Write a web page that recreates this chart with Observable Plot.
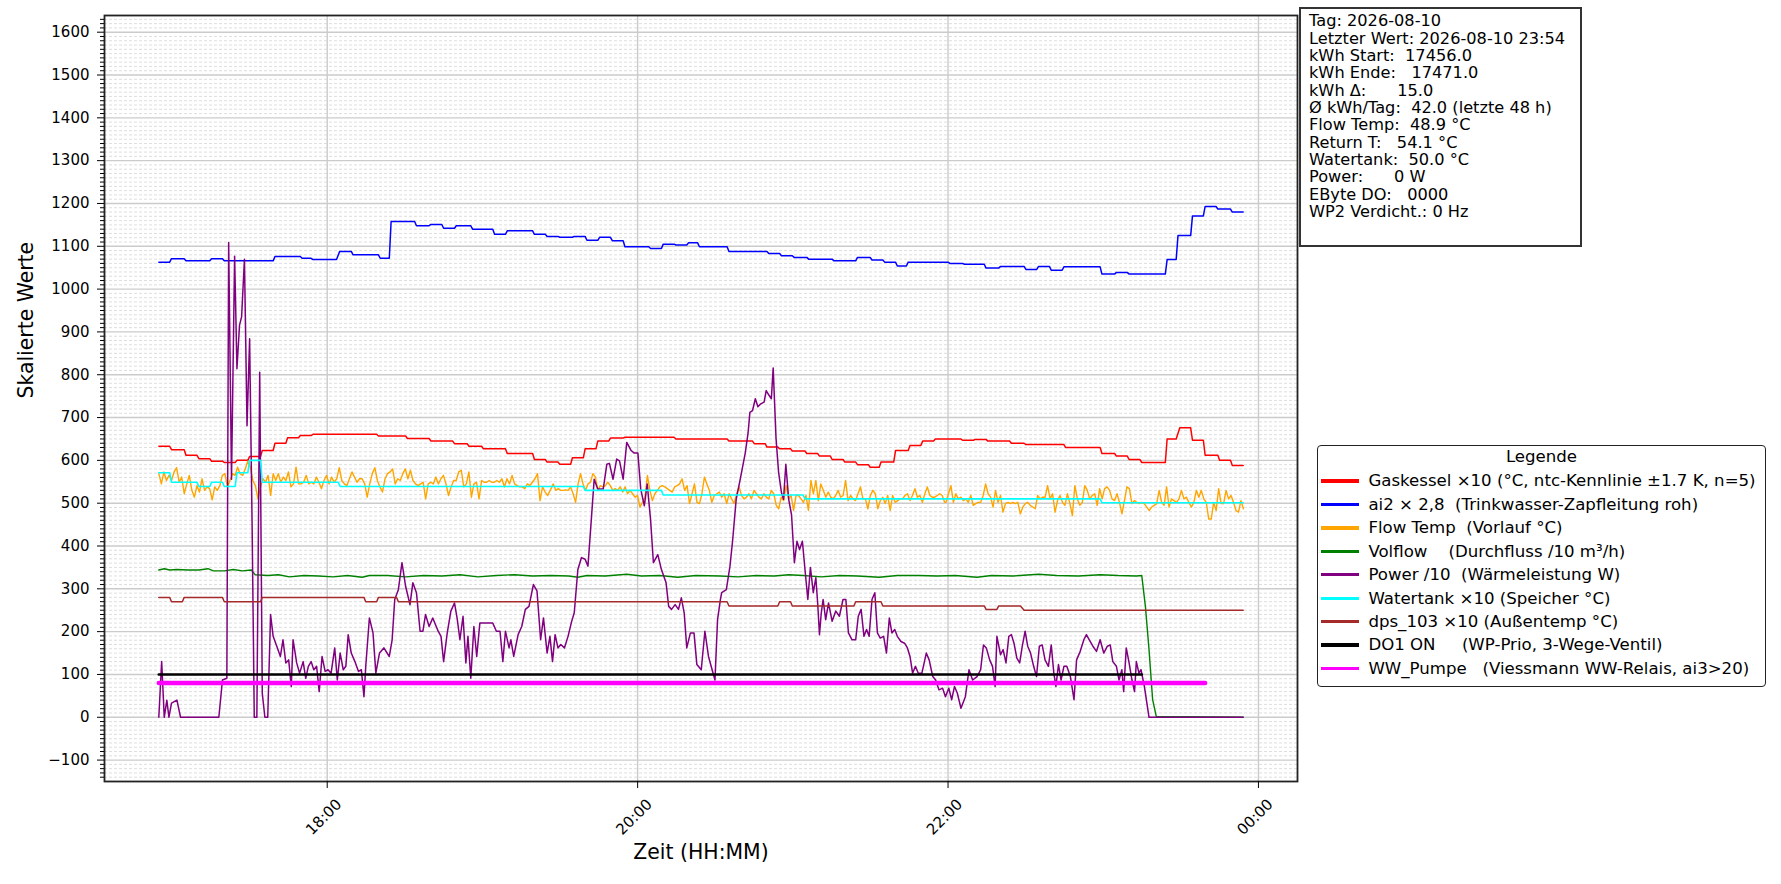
<!DOCTYPE html>
<html><head><meta charset="utf-8">
<script src="https://cdn.jsdelivr.net/npm/d3@7"></script>
<script src="https://cdn.jsdelivr.net/npm/@observablehq/plot@0.6"></script>
<style>
body{margin:0;background:#fff;font-family:"DejaVu Sans",sans-serif;}
#wrap{position:relative;width:1781px;height:884px;overflow:hidden;}
#info{position:absolute;left:1299px;top:7px;width:283px;height:240px;box-sizing:border-box;border:2px solid #333;background:#fff;padding:3.4px 0 0 8px;font-size:16.2px;line-height:17.35px;white-space:pre;color:#000;}
#legend{position:absolute;left:1317px;top:445px;width:449px;height:242px;box-sizing:border-box;border:1.6px solid #222;border-radius:4px;background:#fff;font-size:16.6px;color:#000;}
.lt{position:absolute;left:0;right:0;top:-1.5px;height:23px;line-height:23px;text-align:center;}
.row{position:absolute;left:0;height:23.46px;line-height:23.46px;display:flex;align-items:center;white-space:pre;}
.sw{width:37.6px;height:3.4px;margin-left:3.1px;margin-right:9.7px;flex:none;}
</style></head>
<body><div id="wrap"><div id="chart"></div><div id="info"></div><div id="legend"></div></div>
<script>
// ---- data (times in minutes after 16:00 on 2026-08-10) ----
const xTickMinutes = [120, 240, 360, 480];
const xTickLabels = ["18:00", "20:00", "22:00", "00:00"];

// Gaskessel x10 : step segments [start, end, value]
const gasStart = [54.9,59.8,65.4,70.4,75.3,80.2,85.1,90.0,94.9,99.8,104.7,109.6,114.5,139.8,151.0,160.1,169.2,174.8,180.4,189.6,200.1,205.0,209.9,214.8,219.7,224.6,229.5,235.1,254.8,275.3,285.1,290.0,294.9,299.8,305.4,310.3,315.2,320.1,325.0,329.9,334.1,339.7,345.3,350.2,355.1,365.6,370.5,375.4,384.5,390.1,405.5,419.5,425.1,430.0,434.9,444.7,449.6,454.5,459.4,465.0,469.9];
const gasEnd   = [59.1,64.7,69.6,74.6,79.5,84.4,89.3,94.2,99.1,104.0,108.9,113.8,139.1,150.3,159.4,168.5,174.1,179.7,188.9,199.4,204.3,209.2,214.1,219.0,223.9,228.8,234.4,254.1,274.6,284.4,289.3,294.2,299.1,304.7,309.6,314.5,319.4,324.3,329.2,333.4,339.0,344.6,349.5,354.4,364.9,369.8,374.7,383.8,389.4,404.8,418.8,424.4,429.3,434.2,444.0,448.2,453.8,458.7,464.3,469.2,474.1];
const gasVal   = [633,625,612,604,598,595,600,609,623,640,653,658,661,657,651,645,639,633,627,616,602,596,591,606,627,645,652,654,650,645,639,631,627,622,616,610,602,596,590,584,596,623,635,645,650,647,649,645,640,637,630,616,610,602,595,650,676,647,612,600,588];

// ai2 x 2,8 : step segments
const ai2Start = [54.9,59.8,65.4,75.3,80.2,99.8,110.3,114.5,124.8,130.0,140.5,144.7,154.5,160.1,165.0,169.9,176.2,184.7,189.6,200.1,205.0,209.9,215.5,220.4,225.3,230.2,235.1,245.0,249.9,254.8,259.7,263.9,275.3,290.7,295.6,300.5,306.1,315.9,325.0,330.6,335.5,340.4,344.6,360.7,366.3,374.7,380.3,390.1,395.0,399.9,404.8,419.5,425.1,430.0,444.7,448.9,454.5,459.4,464.3,469.9];
const ai2End   = [59.1,64.7,74.6,79.5,99.1,109.6,113.8,123.6,129.3,139.8,144.0,153.8,159.4,164.3,169.2,175.5,184.0,188.9,199.4,204.3,209.2,214.8,219.7,224.6,229.5,234.4,244.3,249.2,254.1,259.0,263.2,274.6,290.0,294.9,299.8,305.4,315.2,324.3,329.9,334.8,339.7,343.9,360.0,365.6,374.0,379.6,389.4,394.3,399.2,404.1,418.8,424.4,429.3,444.0,448.2,453.8,458.7,463.6,469.2,474.1];
const ai2Val   = [1063,1071,1066,1071,1066,1076,1072,1069,1088,1080,1072,1158,1148,1151,1142,1148,1140,1128,1136,1128,1123,1121,1123,1114,1121,1113,1099,1095,1105,1103,1108,1099,1088,1083,1078,1074,1070,1066,1074,1068,1063,1054,1063,1060,1058,1049,1053,1046,1053,1044,1052,1035,1039,1035,1069,1125,1171,1193,1187,1180];

// Flow Temp (Vorlauf) : three sampled stretches, [start, end] minutes
const flowSpan1 = [54.9, 206.2];
const flowVal1 = [569,545,573,553,565,553,573,583,549,561,522,545,565,530,514,541,526,557,530,538,534,508,538,530,541,565,569,538,553,569,565,584,569,565,580,598,584,553,541,510,538,557,549,565,518,569,553,569,549,561,553,573,538,545,584,545,545,549,565,545,549,545,561,549,534,553,565,545,561,549,557,583,553,545,541,557,573,561,549,557,557,545,514,545,569,583,553,538,526,557,569,573,580,545,557,553,569,580,557,577,553,545,541,545,549,510,545,549,545,561,545,557,565,545,518,538,553,553,573,577,538,545,573,514,545,549,510,553,549,549,553,549,549,553,549,557,538,557,545,565,545,541,538,538,534,545,541,549,557,569,506,538,526,518,530];
const flowSpan2 = [207.4, 358.7];
const flowVal2 = [545,530,534,530,530,531,530,538,522,502,545,569,545,530,545,549,569,561,530,541,538,541,549,541,530,534,530,538,526,538,522,530,522,514,518,491,502,514,565,530,506,522,530,538,541,538,534,530,526,538,541,545,557,530,541,499,522,545,502,499,522,561,545,530,502,518,522,526,514,522,499,522,510,499,522,538,518,510,514,522,510,530,522,514,510,522,514,510,530,522,495,487,514,506,541,510,518,483,518,518,510,502,518,483,553,522,553,506,545,530,514,526,514,510,518,530,514,518,553,506,518,510,506,522,538,510,510,487,518,530,522,487,506,514,499,518,483,518,502,506,510,510,518,522,506,518,534,514,518,502,522,538,518,514,514,518,522,518,502];
const flowSpan3 = [359.2, 474.2];
const flowVal3 = [502,522,541,502,522,510,514,506,510,502,518,495,499,502,502,518,545,522,514,491,530,502,518,479,499,502,499,502,499,502,475,491,499,502,495,491,487,518,510,514,514,541,510,522,479,506,518,502,495,522,499,471,541,510,495,502,541,530,510,518,522,495,534,510,534,538,530,510,506,522,502,475,506,538,534,499,506,502,499,502,499,491,483,491,495,499,530,502,495,538,491,510,506,502,510,530,510,514,502,491,502,530,514,530,510,502,463,463,502,483,534,499,499,530,510,518,502,483,479,506,487];

// Volflow
const volT = [54.9,57.0,59.1,61.9,66.1,70.4,73.9,76.0,80.2,83.7,87.2,90.7,92.1,97.0,101.2,105.4,111.0,116.6,122.2,127.9,133.5,136.3,143.3,150.3,157.3,164.3,171.3,178.3,185.4,192.4,199.4,206.4,213.4,216.9,220.4,227.4,235.8,241.5,248.5,255.5,262.5,272.0,278.8,285.8,292.8,298.4,304.0,311.0,318.0,325.0,333.4,340.4,348.8,355.8,362.8,371.2,376.8,385.2,395.0,402.0,410.4,418.8,425.8,432.8,434.9,436.3,437.7,439.1,440.5,474.1];
const volV = [344,347,344,345,344,344,347,342,342,345,342,344,333,331,333,328,331,330,328,331,327,331,331,328,331,330,333,328,331,333,330,331,330,327,331,330,334,330,331,327,331,330,328,331,330,333,331,328,331,330,327,331,331,330,331,327,331,330,334,331,330,333,331,330,331,259,158,41,2,0];

// Power /10
const pwrT = [54.9,56.0,57.0,58.0,58.8,59.8,61.9,63.3,78.1,79.5,81.2,81.9,83.0,84.2,85.1,86.1,86.9,88.0,89.0,90.0,91.0,91.8,92.8,93.9,94.9,95.9,97.0,98.1,99.1,100.5,101.9,102.9,104.0,105.1,106.1,106.8,108.2,109.3,110.7,111.7,112.7,113.8,114.8,115.9,116.9,118.0,119.2,120.3,121.5,122.9,123.9,125.0,126.2,127.2,128.1,129.3,130.7,132.1,133.2,134.2,134.9,136.3,137.7,138.8,140.2,141.9,144.0,145.1,146.1,147.5,148.9,150.3,152.0,153.1,154.5,155.9,157.0,158.0,159.4,160.8,162.9,164.0,165.0,166.4,167.8,169.2,170.2,171.3,172.5,173.6,174.4,175.5,176.7,177.8,179.0,180.4,184.0,185.4,186.8,187.9,188.9,190.3,191.0,192.1,193.8,195.2,196.6,198.0,199.7,201.1,202.5,203.6,205.0,206.1,207.1,208.1,209.2,210.3,211.7,213.1,214.5,215.5,216.9,218.3,219.7,220.8,222.1,223.2,224.6,226.7,228.1,229.1,230.5,231.9,233.0,234.4,235.8,237.5,238.7,240.1,241.2,242.6,243.7,245.0,246.1,247.8,249.2,251.0,252.0,253.1,254.5,255.8,256.9,258.0,259.0,260.4,261.8,262.9,264.6,266.0,267.4,268.8,269.9,270.9,272.0,272.5,274.3,275.7,276.7,278.1,279.9,281.6,282.7,283.4,284.4,285.5,286.5,287.6,288.9,289.7,290.8,291.7,292.4,293.5,294.5,295.6,296.4,297.3,298.4,299.5,300.6,301.6,302.6,303.7,304.7,305.8,306.8,307.9,308.9,309.6,310.3,311.0,311.7,312.7,313.8,315.2,316.6,318.0,319.4,320.5,321.5,322.9,324.3,325.3,326.4,327.5,328.5,329.5,330.6,331.7,332.7,333.8,335.1,336.2,337.3,338.3,339.4,340.4,341.8,343.2,344.3,345.3,346.3,347.4,348.5,349.9,351.6,352.7,354.1,355.2,356.5,357.9,359.0,360.3,361.4,362.5,363.6,365.0,366.7,368.1,369.5,371.2,372.6,373.7,374.8,376.1,377.2,378.2,378.9,380.3,381.3,382.4,383.5,384.5,385.5,386.6,387.7,388.7,389.8,390.8,391.9,393.1,394.2,395.3,396.4,397.5,398.8,399.9,400.9,401.7,402.7,403.7,404.8,405.9,407.3,408.7,409.7,411.1,412.5,413.5,414.6,416.0,417.4,418.8,420.2,421.6,422.7,423.7,425.1,426.1,427.2,427.9,428.9,430.0,431.1,432.1,432.8,433.8,434.6,435.9,437.7,474.1];
const pwrV = [0,130,0,40,0,33,40,0,0,87,91,1109,556,1077,814,916,935,1070,681,884,431,0,0,806,56,0,0,240,189,166,142,181,127,134,72,181,127,103,130,91,119,130,111,119,60,142,107,111,103,162,87,150,111,119,193,150,130,107,111,48,119,232,197,103,150,162,142,181,275,298,361,306,263,314,291,201,201,240,212,232,201,189,130,197,248,267,232,181,236,127,189,91,212,142,220,220,220,201,201,130,201,162,181,142,193,212,252,259,310,295,181,232,150,189,130,193,162,170,162,189,224,244,345,373,369,353,462,556,533,533,591,593,556,603,599,556,642,623,617,617,533,494,545,462,361,380,345,314,259,252,263,252,279,244,162,197,197,123,111,201,142,111,87,228,275,291,298,353,411,509,563,617,664,712,716,744,725,732,736,763,752,744,816,652,572,525,509,591,509,473,361,411,392,411,345,275,350,291,326,267,193,244,275,228,267,224,248,236,275,275,197,181,181,236,252,189,205,189,275,291,197,185,189,150,232,197,205,189,177,173,162,142,103,119,103,103,150,134,95,87,64,68,48,68,41,72,56,21,48,111,87,95,111,169,162,134,119,72,189,146,158,127,189,193,173,138,127,166,201,166,150,119,95,166,169,134,119,169,103,72,123,87,119,119,95,41,134,154,181,193,181,166,154,181,150,166,169,130,119,87,111,60,162,127,87,60,130,103,111,72,0,0];

// Watertank x10 : step segments
const tankStart = [54.9,59.8,70.4,75.3,80.2,85.1,90.0,94.9,125.0,219.7,249.9,304.7,419.5];
const tankEnd   = [59.1,69.6,74.6,79.5,84.4,89.3,94.2,124.3,219.0,249.2,304.0,418.8,474.1];
const tankVal   = [571,549,539,549,539,571,600,549,539,530,519,510,501];

// dps_103 x10 : step segments
const dpsStart = [54.9,59.8,64.7,80.2,94.9,134.9,139.8,147.5,275.3,294.9,299.8,324.3,334.8,374.7,379.6,389.4];
const dpsEnd   = [59.1,64.0,79.5,94.2,134.2,139.1,146.8,274.6,294.2,299.1,323.6,334.1,374.0,378.9,388.0,474.1];
const dpsVal   = [280,270,280,270,280,270,280,270,260,270,260,270,260,252,260,250];

// DO1 ON and WW_Pumpe
const do1Span = [54.9, 434.9]; const do1Val = 100;
const wwSpan = [54.9, 459.4]; const wwVal = 80;

const legendLabels = [
  "Gaskessel ×10 (°C, ntc-Kennlinie ±1.7 K, n=5)",
  "ai2 × 2,8  (Trinkwasser-Zapfleitung roh)",
  "Flow Temp  (Vorlauf °C)",
  "Volflow    (Durchfluss /10 m³/h)",
  "Power /10  (Wärmeleistung W)",
  "Watertank ×10 (Speicher °C)",
  "dps_103 ×10 (Außentemp °C)",
  "DO1 ON     (WP-Prio, 3-Wege-Ventil)",
  "WW_Pumpe   (Viessmann WW-Relais, ai3>20)"
];
const legendColors = ["red","blue","orange","green","purple","cyan","brown","black","magenta"];
const infoLines = [
  "Tag: 2026-08-10",
  "Letzter Wert: 2026-08-10 23:54",
  "kWh Start:  17456.0",
  "kWh Ende:   17471.0",
  "kWh Δ:      15.0",
  "Ø kWh/Tag:  42.0 (letzte 48 h)",
  "Flow Temp:  48.9 °C",
  "Return T:   54.1 °C",
  "Watertank:  50.0 °C",
  "Power:      0 W",
  "EByte DO:   0000",
  "WP2 Verdicht.: 0 Hz"
];

// ---- build ----
const base = Date.UTC(2026, 7, 10, 16, 0);
const toDate = m => new Date(base + m * 60000);
const pts = (T, V) => T.map((t, i) => ({t: toDate(t), v: V[i]}));
const steps = (S, E, V) => S.flatMap((s, i) => [{t: toDate(s), v: V[i]}, {t: toDate(E[i]), v: V[i]}]);
const sampled = (span, V) => V.map((v, i) => ({t: toDate(span[0] + (span[1] - span[0]) * i / (V.length - 1)), v}));

const gasData = steps(gasStart, gasEnd, gasVal);
const ai2Data = steps(ai2Start, ai2End, ai2Val);
const flowData = [...sampled(flowSpan1, flowVal1), ...sampled(flowSpan2, flowVal2), ...sampled(flowSpan3, flowVal3)];
const volData = pts(volT, volV);
const pwrData = pts(pwrT, pwrV);
const tankData = steps(tankStart, tankEnd, tankVal);
const dpsData = steps(dpsStart, dpsEnd, dpsVal);
const do1Data = [{t: toDate(do1Span[0]), v: do1Val}, {t: toDate(do1Span[1]), v: do1Val}];
const wwData = [{t: toDate(wwSpan[0]), v: wwVal}, {t: toDate(wwSpan[1]), v: wwVal}];

const xTicks = xTickMinutes.map(toDate);
const xTickObjs = xTicks.map((d, i) => ({d, label: xTickLabels[i]}));
const majorY = d3.range(-100, 1601, 100);
const minorY = d3.range(-140, 1640, 10).filter(v => v % 100 !== 0);
const fmtY = v => v < 0 ? "\u2212" + Math.abs(v) : String(v);

const line = (data, stroke, w) => Plot.line(data, {x: "t", y: "v", stroke, strokeWidth: w, strokeLinejoin: "round"});

const chart = Plot.plot({
  width: 1781, height: 884,
  marginLeft: 104, marginRight: 484, marginTop: 15, marginBottom: 103,
  x: {type: "utc", domain: [toDate(33.9), toDate(495.1)]},
  y: {domain: [-150, 1639]},
  style: {fontFamily: "DejaVu Sans", fontSize: "15px", color: "#000", background: "#fff"},
  marks: [
    Plot.gridY(minorY, {stroke: "#d6d6d6", strokeOpacity: 1, strokeWidth: 0.8, strokeDasharray: "3,2"}),
    Plot.gridY(majorY, {stroke: "#cbcbcb", strokeOpacity: 1, strokeWidth: 1.4}),
    Plot.gridX(xTicks, {stroke: "#cbcbcb", strokeOpacity: 1, strokeWidth: 1.4}),
    line(gasData, "red", 1.5),
    line(ai2Data, "blue", 1.5),
    line(flowData, "orange", 1.4),
    line(volData, "green", 1.4),
    line(pwrData, "purple", 1.5),
    line(tankData, "cyan", 1.6),
    line(dpsData, "brown", 1.5),
    line(do1Data, "black", 2.6),
    line(wwData, "magenta", 4.5),
    Plot.frame({stroke: "#222", strokeWidth: 1.8}),
    Plot.axisY(minorY, {tickSize: 4, tickFormat: () => "", label: null}),
    Plot.axisY(majorY, {tickSize: 7, tickPadding: 8, tickFormat: fmtY, label: null, fontSize: 15}),
    Plot.axisX(xTicks, {tickSize: 7, tickFormat: () => "", label: null}),
    Plot.text(xTickObjs, {x: "d", text: "label", frameAnchor: "bottom", dy: 39, rotate: -45, fontSize: 15}),
    Plot.text(["Skalierte Werte"], {text: d => d, frameAnchor: "left", dx: -78, rotate: -90, fontSize: 20.4}),
    Plot.text(["Zeit (HH:MM)"], {text: d => d, frameAnchor: "bottom", dy: 77.5, fontSize: 20.4})
  ]
});
document.getElementById("chart").appendChild(chart);

document.getElementById("info").textContent = infoLines.join("\n");
const lg = document.getElementById("legend");
const t = document.createElement("div"); t.className = "lt"; t.textContent = "Legende"; lg.appendChild(t);
legendLabels.forEach((lab, i) => {
  const r = document.createElement("div"); r.className = "row";
  r.style.top = (23.2 + i * 23.46) + "px";
  const s = document.createElement("div"); s.className = "sw"; s.style.background = legendColors[i];
  const tx = document.createElement("span"); tx.textContent = lab;
  r.appendChild(s); r.appendChild(tx); lg.appendChild(r);
});
</script></body></html>
